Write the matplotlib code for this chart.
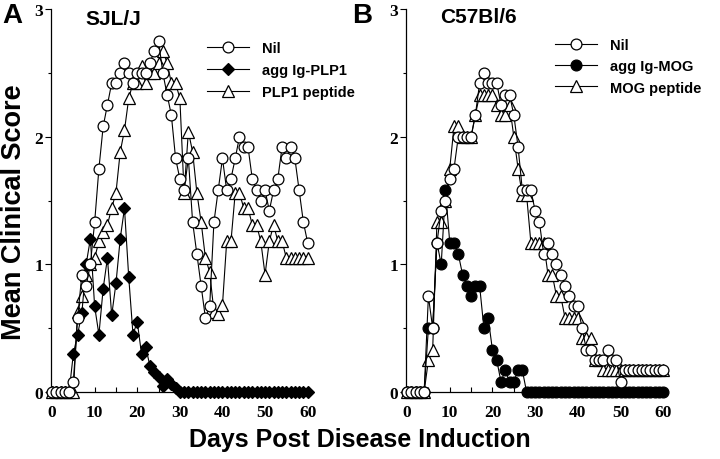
import matplotlib
matplotlib.use("Agg")
import matplotlib.pyplot as plt
import numpy as np

days = list(range(0, 61))

# Panel A (SJL/J)
a_nil = [0, 0, 0, 0, 0, 0.08, 0.58, 0.92, 0.83, 1.0,
         1.33, 1.75, 2.08, 2.25, 2.42, 2.42, 2.5, 2.58, 2.5, 2.42,
         2.5, 2.5, 2.5, 2.58, 2.67, 2.75, 2.5, 2.33, 2.17, 1.83,
         1.67, 1.58, 1.83, 1.33, 1.08, 0.83, 0.58, 0.67, 1.33, 1.58,
         1.83, 1.58, 1.67, 1.83, 2.0, 1.92, 1.92, 1.67, 1.58, 1.5,
         1.58, 1.42, 1.58, 1.67, 1.92, 1.83, 1.92, 1.83, 1.58, 1.33,
         1.17]
a_agg = [0, 0, 0, 0, 0, 0.3, 0.45, 0.62, 1.0, 1.2,
         0.67, 0.45, 0.81, 1.05, 0.6, 0.85, 1.2, 1.44, 0.9, 0.45,
         0.55, 0.3, 0.35, 0.2, 0.16, 0.12, 0.05, 0.1, 0.06, 0.03] + [0] * 31
a_pep = [0, 0, 0, 0, 0, 0, 0.63, 0.75, 0.92, 1.0,
         1.05, 1.18, 1.25, 1.31, 1.44, 1.56, 1.88, 2.05, 2.3, 2.42,
         2.42, 2.55, 2.42, 2.5, 2.5, 2.58, 2.67, 2.58, 2.42, 2.42,
         2.3, 1.56, 2.04, 1.88, 1.56, 1.33, 1.05, 0.94, 0.63, 0.61,
         0.68, 1.18, 1.18, 1.56, 1.56, 1.44, 1.44, 1.31, 1.31, 1.18,
         0.92, 1.18, 1.31, 1.18, 1.18] + [1.05] * 6

# Panel B (C57Bl/6)
b_nil = [0, 0, 0, 0, 0, 0.75, 0.5, 1.17, 1.42, 1.5,
         1.67, 1.75, 2.0, 2.0, 2.0, 2.0, 2.17, 2.42, 2.5, 2.42,
         2.42, 2.42, 2.25, 2.33, 2.33, 2.17, 1.92, 1.58, 1.58, 1.58,
         1.42, 1.33, 1.08, 1.17, 1.08, 1.0, 0.92, 0.83, 0.75, 0.67,
         0.67, 0.5, 0.33, 0.33, 0.25, 0.25, 0.25, 0.33, 0.25, 0.25,
         0.08] + [0.17] * 10
b_agg = [0, 0, 0, 0, 0, 0.5, 0.5, 1.17, 1.0, 1.58,
         1.17, 1.17, 1.08, 0.92, 0.83, 0.75, 0.83, 0.83, 0.5, 0.58,
         0.33, 0.25, 0.08, 0.17, 0.08, 0.08, 0.17, 0.17] + [0] * 33
b_pep = [0, 0, 0, 0, 0, 0.25, 0.33, 1.33, 1.33, 1.5,
         1.75, 2.08, 2.08, 2.0, 2.0, 2.0, 2.17, 2.33, 2.33, 2.33,
         2.33, 2.25, 2.17, 2.17, 2.25, 2.0, 1.75, 1.54, 1.54, 1.17,
         1.17, 1.17, 1.17, 0.92, 0.92, 0.75, 0.75, 0.58, 0.58, 0.58,
         0.58, 0.42, 0.42, 0.42, 0.25, 0.25] + [0.17] * 15

labels_a = ["Nil", "agg Ig-PLP1", "PLP1 peptide"]
labels_b = ["Nil", "agg Ig-MOG", "MOG peptide"]
xticks = [0, 10, 20, 30, 40, 50, 60]
yticks = [0, 1, 2, 3]

SANS = "Liberation Sans"
SERIF = "Liberation Serif"

fig = plt.figure(figsize=(7.2, 4.6), dpi=100)
W, H = 720.0, 460.0
bottom = (H - 393) / H
height = 383 / H
axA = fig.add_axes([51.2 / W, bottom, 259 / W, height])
axB = fig.add_axes([406.2 / W, bottom, 259.6 / W, height])

lw = 0.8
ms_c = 7.8
mew = 0.9

def style_axes(ax):
    ax.set_xlim(-0.2, 60.6)
    ax.set_ylim(0, 3)
    for s in ["top", "right"]:
        ax.spines[s].set_visible(False)
    for s in ["left", "bottom"]:
        ax.spines[s].set_linewidth(0.9)
    ax.set_xticks(xticks)
    ax.set_xticks(list(range(0, 61, 5)), minor=True)
    ax.set_yticks(yticks)
    ax.set_yticks([0.5, 1.5, 2.5], minor=True)
    ax.tick_params(axis="x", which="both", direction="in", length=3.5, width=0.8, pad=9)
    ax.tick_params(axis="y", which="major", direction="out", length=4, width=0.8, pad=2)
    ax.tick_params(axis="y", which="minor", direction="out", length=2.5, width=0.8)
    for lab in ax.get_xticklabels() + ax.get_yticklabels():
        lab.set_fontfamily(SERIF)
        lab.set_fontweight("bold")
        lab.set_fontsize(12.5)

style_axes(axA)
style_axes(axB)

# Panel A
h_pep_a, = axA.plot(days, a_pep, "-", color="black", lw=lw, marker="^", ms=8.4,
                    mfc="white", mec="black", mew=mew, clip_on=False, zorder=3)
h_agg_a, = axA.plot(days, a_agg, "-", color="black", lw=lw, marker="D", ms=5.9,
                    mfc="black", mec="black", mew=mew, clip_on=False, zorder=4)
h_nil_a, = axA.plot(days, a_nil, "-", color="black", lw=lw, marker="o", ms=ms_c,
                    mfc="white", mec="black", mew=mew, clip_on=False, zorder=5)

# Panel B
h_pep_b, = axB.plot(days, b_pep, "-", color="black", lw=lw, marker="^", ms=8.4,
                    mfc="white", mec="black", mew=mew, clip_on=False, zorder=3)
h_agg_b, = axB.plot(days, b_agg, "-", color="black", lw=lw, marker="o", ms=ms_c,
                    mfc="black", mec="black", mew=mew, clip_on=False, zorder=4)
h_nil_b, = axB.plot(days, b_nil, "-", color="black", lw=lw, marker="o", ms=ms_c,
                    mfc="white", mec="black", mew=mew, clip_on=False, zorder=5)

leg_font = {"family": SANS, "weight": "bold", "size": 10.5}
axA.legend([h_nil_a, h_agg_a, h_pep_a], labels_a, loc="upper left",
           bbox_to_anchor=((207 - 51.2) / 259, (393 - 42) / 383), frameon=False,
           numpoints=1, handlelength=2.9, handletextpad=0.9, labelspacing=0.55,
           borderpad=0, borderaxespad=0, prop=leg_font)
axB.legend([h_nil_b, h_agg_b, h_pep_b], labels_b, loc="upper left",
           bbox_to_anchor=((555 - 406.2) / 259.6, (393 - 39) / 383), frameon=False,
           numpoints=1, handlelength=2.9, handletextpad=0.9, labelspacing=0.5,
           borderpad=0, borderaxespad=0, prop=leg_font)

# Titles and panel letters
fig.text(2 / W, 1 - 23 / H, "A", family=SANS, weight="bold", size=20, va="baseline")
fig.text(352 / W, 1 - 23 / H, "B", family=SANS, weight="bold", size=20, va="baseline")
fig.text(85 / W, 1 - 25 / H, "SJL/J", family=SANS, weight="bold", size=15, va="baseline")
fig.text(440 / W, 1 - 23 / H, "C57Bl/6", family=SANS, weight="bold", size=15, va="baseline")

fig.text(14 / W, 1 - 212 / H, "Mean Clinical Score", family=SANS, weight="bold",
         size=19.5, rotation=90, ha="center", va="center")
fig.text(360 / W, 1 - 440 / H, "Days Post Disease Induction", family=SANS,
         weight="bold", size=18, ha="center", va="center")

fig.savefig("out.png", dpi=100)
